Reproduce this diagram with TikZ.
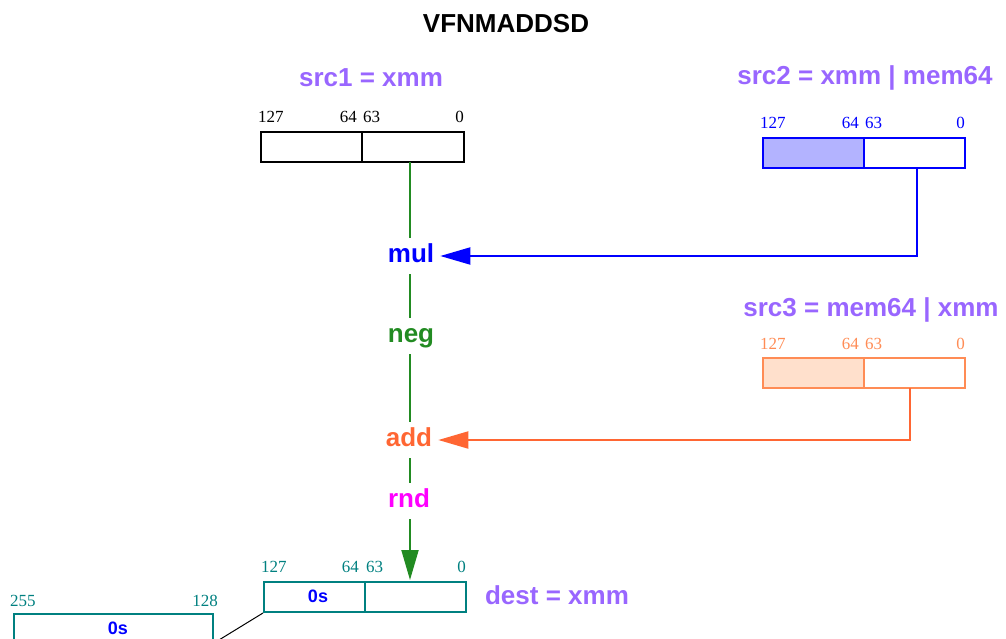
\documentclass[tikz,border=0pt]{standalone}
\usepackage{fontspec}
\setmainfont{Liberation Sans}
\newfontfamily\numfont{Liberation Serif}
\usetikzlibrary{arrows.meta}
\definecolor{cpurple}{HTML}{9966FF}
\definecolor{cblue}{HTML}{0000FF}
\definecolor{cgreen}{HTML}{228B22}
\definecolor{corange}{HTML}{FF6633}
\definecolor{ccoral}{HTML}{FF8C55}
\definecolor{cmag}{HTML}{FF00FF}
\definecolor{cteal}{HTML}{008080}
\definecolor{fblue}{HTML}{B3B3FF}
\definecolor{forange}{HTML}{FFE0CC}
\tikzset{
  big/.style={font=\fontsize{26}{30}\selectfont\bfseries, inner sep=0pt},
  zeros/.style={font=\fontsize{18}{22}\selectfont\bfseries, text=cblue, inner sep=0pt},
  num/.style={font=\numfont\fontsize{17}{20}\selectfont, inner sep=0pt},
  half/.style={draw, line width=2pt, minimum height=30pt, inner sep=0pt, anchor=north west},
  op/.style={font=\fontsize{26}{30}\selectfont\bfseries, text height=19pt, text depth=5.5pt, inner sep=6pt},
  conn/.style={line width=2pt},
  tip/.style={-{Triangle[length=30pt,width=17pt]}},
}
\begin{document}
\begin{tikzpicture}[x=1pt,y=-1pt]
\useasboundingbox (0,0) rectangle (1006,639);
\clip (0,0) rectangle (1006,639);
% title
\node[big] (title) at (506,24) {VFNMADDSD};
% src1
\node[big, text=cpurple] (l1) at (371,78) {src1 = xmm};
\node[half, minimum width=101pt] (s1h) at (260,131) {};
\node[half, minimum width=102pt] (s1l) at (361,131) {};
\node[num, anchor=base west] (s1a) at (258,123) {127};
\node[num, anchor=base east] (s1b) at (357,123) {64};
\node[num, anchor=base west] (s1c) at (363,123) {63};
\node[num, anchor=base east] (s1d) at (464,123) {0};
% src2
\node[big, text=cpurple] (l2) at (865,78) {src2 = xmm | mem64};
\node[half, draw=cblue, fill=fblue, minimum width=101pt] (s2h) at (762,137) {};
\node[half, draw=cblue, minimum width=101pt] (s2l) at (863,137) {};
\node[num, text=cblue, anchor=base west] (s2a) at (760,129) {127};
\node[num, text=cblue, anchor=base east] (s2b) at (859,129) {64};
\node[num, text=cblue, anchor=base west] (s2c) at (865,129) {63};
\node[num, text=cblue, anchor=base east] (s2d) at (965,129) {0};
% src3
\node[big, text=cpurple] (l3) at (871,310) {src3 = mem64 | xmm};
\node[half, draw=ccoral, fill=forange, minimum width=101pt] (s3h) at (762,357) {};
\node[half, draw=ccoral, minimum width=101pt] (s3l) at (863,357) {};
\node[num, text=ccoral, anchor=base west] (s3a) at (760,349) {127};
\node[num, text=ccoral, anchor=base east] (s3b) at (859,349) {64};
\node[num, text=ccoral, anchor=base west] (s3c) at (865,349) {63};
\node[num, text=ccoral, anchor=base east] (s3d) at (965,349) {0};
% dest
\node[big, text=cpurple] (l4) at (557,595) {dest = xmm};
\node[half, draw=cteal, minimum width=101pt] (dh) at (263,581) {};
\node[half, draw=cteal, minimum width=101pt] (dl) at (364,581) {};
\node[zeros] (dz) at (318,596) {0s};
\node[num, text=cteal, anchor=base west] (da) at (261,572) {127};
\node[num, text=cteal, anchor=base east] (db) at (359,572) {64};
\node[num, text=cteal, anchor=base west] (dc) at (366,572) {63};
\node[num, text=cteal, anchor=base east] (dd) at (466,572) {0};
% extra upper box
\node[half, draw=cteal, minimum width=199pt, minimum height=50pt] (xh) at (13,613) {};
\node[zeros] (xz) at (118,628) {0s};
\node[num, text=cteal, anchor=base west] (xa) at (10,606) {255};
\node[num, text=cteal, anchor=base east] (xb) at (218,606) {128};
\coordinate (xlink) at (170,670);
\draw[line width=1pt] (dh.south west) -- (xlink);
% operations
\node[op, text=cblue] (mul) at (411,256) {mul};
\node[op, text=cgreen] (neg) at (411,336) {neg};
\node[op, text=corange] (add) at (409,440) {add};
\node[op, text=cmag] (rnd) at (409,501) {rnd};
\coordinate (s1out) at (410,162);
\coordinate (s2out) at (917,168);
\coordinate (s3out) at (910,388);
\coordinate (din) at (410,580);
\draw[conn, draw=cgreen] (s1out) -- (s1out |- mul.north);
\draw[conn, draw=cgreen] (mul.south -| s1out) -- (neg.north -| s1out);
\draw[conn, draw=cgreen] (neg.south -| s1out) -- (add.north -| s1out);
\draw[conn, draw=cgreen] (add.south -| s1out) -- (rnd.north -| s1out);
\draw[conn, draw=cgreen, tip] (rnd.south -| s1out) -- (din);
\draw[conn, draw=cblue, tip] (s2out) |- (mul.east);
\draw[conn, draw=corange, tip] (s3out) |- (add.east);
\end{tikzpicture}
\end{document}
